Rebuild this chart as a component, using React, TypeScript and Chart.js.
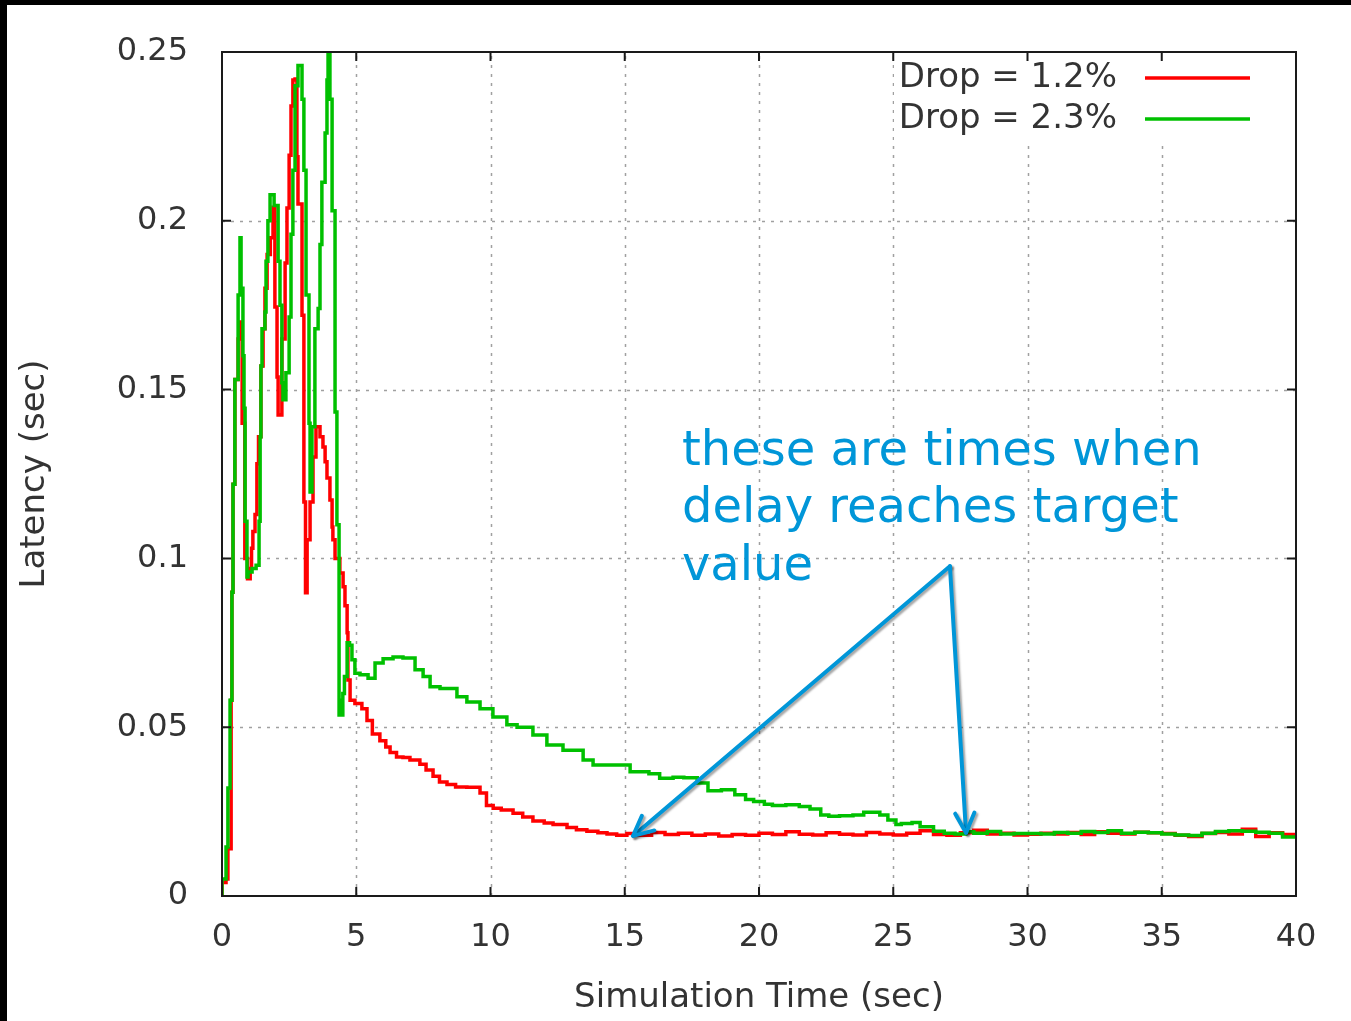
import React, { useEffect, useRef } from "react";
import { Chart, registerables } from "chart.js";

Chart.register(...registerables);

// ---------- data ----------
const xTicks = [0, 5, 10, 15, 20, 25, 30, 35, 40];
const xTickLabels = ["0", "5", "10", "15", "20", "25", "30", "35", "40"];
const yTicks = [0, 0.05, 0.1, 0.15, 0.2, 0.25];
const yTickLabels = ["0", "0.05", "0.1", "0.15", "0.2", "0.25"];

const seriesLabels = ["Drop = 1.2%", "Drop = 2.3%"];
const seriesColors = ["#ff0000", "#00c000"];

const xTitle = "Simulation Time (sec)";
const yTitle = "Latency (sec)";

// Drop = 1.2% (red)
const redTime = [
  0, 0.15, 0.22, 0.34, 0.37, 0.41, 0.48, 0.6, 0.67, 0.75, 0.85, 0.95, 1.05, 1.1, 1.15, 1.23, 1.3, 1.36,
  1.45, 1.53, 1.6, 1.68, 1.8, 1.9, 1.97, 2.05, 2.09, 2.23, 2.35, 2.42, 2.5, 2.57, 2.64, 2.72, 2.79, 2.83,
  2.98, 3.05, 3.11, 3.17, 3.28, 3.39, 3.5, 3.58, 3.65, 3.76, 3.84, 3.91, 4.02, 4.1, 4.13, 4.21, 4.39,
  4.51, 4.58, 4.66, 4.69, 4.77, 4.95, 5.21, 5.4, 5.6, 5.88, 6.1, 6.26, 6.5, 6.74, 7.0, 7.37, 7.6, 7.86,
  8.1, 8.38, 8.7, 9.12, 9.61, 9.85, 10.1, 10.4, 10.84, 11.2, 11.58, 12.0, 12.33, 12.85, 13.2, 13.59,
  14.0, 14.34, 14.7, 15.08, 15.5, 16, 16.5, 17, 17.5, 18, 18.5, 19, 19.5, 20, 20.5, 21, 21.5, 22, 22.5,
  23, 23.5, 24, 24.5, 25, 25.5, 26, 26.5, 27, 27.5, 28, 28.5, 29, 29.5, 30, 30.5, 31, 31.5, 32, 32.5,
  33, 33.5, 34, 34.5, 35, 35.5, 36, 36.5, 37, 37.5, 38, 38.5, 39, 39.5, 40,
];
const redLatency = [
  0, 0.004, 0.005, 0.014, 0.058, 0.09, 0.122, 0.153, 0.165, 0.17, 0.14, 0.1, 0.094, 0.097, 0.103, 0.108,
  0.113, 0.128, 0.136, 0.157, 0.168, 0.18, 0.19, 0.195, 0.204, 0.1745, 0.1537, 0.1425, 0.165, 0.1875,
  0.2038, 0.2194, 0.234, 0.2417, 0.242, 0.219, 0.205, 0.172, 0.1167, 0.0898, 0.1055, 0.1167, 0.13, 0.139,
  0.139, 0.136, 0.133, 0.1286, 0.1238, 0.1173, 0.1093, 0.1055, 0.1, 0.0957, 0.0916, 0.086, 0.078, 0.064,
  0.058, 0.057, 0.0555, 0.052, 0.048, 0.046, 0.0441, 0.0425, 0.0412, 0.041, 0.0403, 0.039, 0.0373, 0.0355,
  0.0338, 0.033, 0.0323, 0.0322, 0.0305, 0.0268, 0.026, 0.0255, 0.0245, 0.0234, 0.0222, 0.0216, 0.0212,
  0.0203, 0.0196, 0.0192, 0.0187, 0.0184, 0.018, 0.0185, 0.018, 0.0188, 0.0182, 0.0186, 0.018, 0.0184,
  0.0178, 0.0182, 0.018, 0.0186, 0.0182, 0.019, 0.0183, 0.0181, 0.0187, 0.0183, 0.0181, 0.0188, 0.0184,
  0.0181, 0.0186, 0.0193, 0.0182, 0.018, 0.0187, 0.0195, 0.0184, 0.0186, 0.0181, 0.0183, 0.0186, 0.0184,
  0.0188, 0.0182, 0.019, 0.0186, 0.0184, 0.0189, 0.0187, 0.0185, 0.018, 0.0176, 0.0185, 0.0188, 0.0184,
  0.0198, 0.0176, 0.0187, 0.0182,
];

// Drop = 2.3% (green)
const greenTime = [
  0, 0.15, 0.22, 0.3, 0.37, 0.41, 0.48, 0.6, 0.67, 0.71, 0.78, 0.82, 0.86, 0.93, 0.97, 1.12, 1.27, 1.38,
  1.42, 1.45, 1.49, 1.6, 1.64, 1.71, 1.79, 1.94, 2.0, 2.09, 2.16, 2.23, 2.27, 2.38, 2.5, 2.57, 2.64, 2.72,
  2.83, 2.98, 3.05, 3.13, 3.24, 3.28, 3.35, 3.46, 3.58, 3.65, 3.72, 3.84, 3.91, 3.95, 4.02, 4.1, 4.21,
  4.28, 4.36, 4.39, 4.45, 4.5, 4.56, 4.66, 4.75, 4.84, 4.95, 5.14, 5.44, 5.7, 6.0, 6.37, 6.74, 7.19, 7.49,
  7.75, 8.12, 8.75, 9.12, 9.61, 10.09, 10.61, 10.99, 11.58, 12.1, 12.7, 13.45, 13.82, 14.82, 15.2, 15.9,
  16.3, 16.8, 17.2, 17.7, 18.1, 18.6, 19.1, 19.5, 19.8, 20.2, 20.5, 21.0, 21.5, 21.9, 22.3, 22.6, 23.0,
  23.5, 23.9, 24.2, 24.5, 24.8, 25.1, 25.3, 25.7, 26.0, 26.5, 26.9, 27.3, 27.7, 28.0, 28.5, 29.0, 29.5,
  30, 30.5, 31, 31.5, 32, 32.5, 33, 33.5, 34, 34.5, 35, 35.5, 36, 36.5, 37, 37.5, 38, 38.5, 39, 39.5, 40,
];
const greenLatency = [
  0, 0.005, 0.0145, 0.032, 0.058, 0.09, 0.122, 0.153, 0.178, 0.195, 0.18, 0.16, 0.1445, 0.111, 0.0945,
  0.096, 0.097, 0.098, 0.111, 0.136, 0.157, 0.168, 0.173, 0.188, 0.2, 0.2077, 0.2045, 0.2045, 0.188,
  0.175, 0.152, 0.147, 0.155, 0.1715, 0.196, 0.215, 0.24, 0.246, 0.236, 0.215, 0.178, 0.14, 0.1197, 0.139,
  0.168, 0.174, 0.193, 0.2114, 0.226, 0.2417, 0.2497, 0.236, 0.203, 0.1434, 0.11, 0.0536, 0.058, 0.0536,
  0.06, 0.065, 0.075, 0.0743, 0.07, 0.066, 0.0655, 0.0645, 0.069, 0.0703, 0.0708, 0.0705, 0.067, 0.065,
  0.062, 0.0615, 0.059, 0.0575, 0.0555, 0.053, 0.0507, 0.05, 0.0477, 0.0447, 0.0432, 0.0403, 0.0388,
  0.0388, 0.0368, 0.0362, 0.0349, 0.0352, 0.035, 0.0335, 0.0312, 0.0315, 0.03, 0.0286, 0.028, 0.0272,
  0.0268, 0.027, 0.0265, 0.0258, 0.024, 0.0236, 0.0238, 0.024, 0.0248, 0.0248, 0.024, 0.0225, 0.0212,
  0.0215, 0.0218, 0.0205, 0.0192, 0.0186, 0.0184, 0.019, 0.0186, 0.0191, 0.0184, 0.0185, 0.0185, 0.0184,
  0.0188, 0.0186, 0.0191, 0.0188, 0.0193, 0.0186, 0.0189, 0.0187, 0.0184, 0.0181, 0.0179, 0.0186, 0.0191,
  0.0193, 0.0192, 0.0189, 0.0186, 0.0175,
];

// annotation (data coordinates)
const annotationLines = ["these are times when", "delay reaches target", "value"];
const annotationAnchor = { x: 17.13, y: 0.1277 };
const arrowFrom = { x: 27.11, y: 0.0977 };
const arrowTips = [
  { x: 15.31, y: 0.0178 },
  { x: 27.71, y: 0.0187 },
];

// ---------- styles ----------
const FONT_FAMILY = "'DejaVu Sans', sans-serif";
const TEXT_COLOR = "#333333";
const ANNOT_COLOR = "#0096d8";

const gnuplotPlugin = {
  id: "gnuplotDecor",
  beforeDatasetsDraw(chart: any) {
    const { ctx, chartArea: a, scales } = chart;
    const xs = scales.x;
    const ys = scales.y;
    ctx.save();
    ctx.strokeStyle = "#a0a0a0";
    ctx.lineWidth = 1.5;
    ctx.setLineDash([3, 6]);
    xTicks.forEach((v) => {
      if (v === xs.min || v === xs.max) return;
      const px = Math.round(xs.getPixelForValue(v)) + 0.5;
      ctx.beginPath();
      ctx.moveTo(px, a.bottom);
      ctx.lineTo(px, a.top);
      ctx.stroke();
    });
    yTicks.forEach((v) => {
      if (v === ys.min || v === ys.max) return;
      const py = Math.round(ys.getPixelForValue(v)) + 0.5;
      ctx.beginPath();
      ctx.moveTo(a.left, py);
      ctx.lineTo(a.right, py);
      ctx.stroke();
    });
    ctx.setLineDash([]);

    // gnuplot-style key (opaque)
    ctx.fillStyle = "#ffffff";
    ctx.fillRect(a.right - 402, a.top + 4, 368, 84);
    ctx.font = `34px ${FONT_FAMILY}`;
    ctx.textAlign = "right";
    ctx.textBaseline = "middle";
    seriesLabels.forEach((lab, i) => {
      const y = a.top + 26 + i * 41;
      ctx.fillStyle = TEXT_COLOR;
      ctx.fillText(lab, a.right - 179, y);
      ctx.strokeStyle = seriesColors[i];
      ctx.lineWidth = 3.5;
      ctx.beginPath();
      ctx.moveTo(a.right - 151, y);
      ctx.lineTo(a.right - 46, y);
      ctx.stroke();
    });
    ctx.restore();
  },
  afterDatasetsDraw(chart: any) {
    const { ctx, chartArea: a, scales } = chart;
    const xs = scales.x;
    const ys = scales.y;
    ctx.save();
    // border
    ctx.strokeStyle = "#1a1a1a";
    ctx.lineWidth = 2;
    ctx.strokeRect(a.left, a.top, a.right - a.left, a.bottom - a.top);
    // inward tick marks (mirrored)
    const tl = 9;
    ctx.beginPath();
    xTicks.forEach((v) => {
      const px = xs.getPixelForValue(v);
      ctx.moveTo(px, a.bottom);
      ctx.lineTo(px, a.bottom - tl);
      ctx.moveTo(px, a.top);
      ctx.lineTo(px, a.top + tl);
    });
    yTicks.forEach((v) => {
      const py = ys.getPixelForValue(v);
      ctx.moveTo(a.left, py);
      ctx.lineTo(a.left + tl, py);
      ctx.moveTo(a.right, py);
      ctx.lineTo(a.right - tl, py);
    });
    ctx.stroke();

    // annotation text
    ctx.fillStyle = ANNOT_COLOR;
    ctx.font = `48px 'DejaVu Sans', sans-serif`;
    ctx.textAlign = "left";
    ctx.textBaseline = "alphabetic";
    const tx = xs.getPixelForValue(annotationAnchor.x);
    const ty = ys.getPixelForValue(annotationAnchor.y);
    annotationLines.forEach((line, i) => {
      ctx.fillText(line, tx, ty + i * 57.5);
    });

    // arrows
    const fx = xs.getPixelForValue(arrowFrom.x);
    const fy = ys.getPixelForValue(arrowFrom.y);
    ctx.strokeStyle = ANNOT_COLOR;
    ctx.lineWidth = 4;
    ctx.lineCap = "round";
    ctx.lineJoin = "round";
    ctx.shadowColor = "rgba(0,0,0,0.35)";
    ctx.shadowOffsetX = 2;
    ctx.shadowOffsetY = 2;
    ctx.shadowBlur = 2;
    arrowTips.forEach((tip) => {
      const px = xs.getPixelForValue(tip.x);
      const py = ys.getPixelForValue(tip.y);
      ctx.beginPath();
      ctx.moveTo(fx, fy);
      ctx.lineTo(px, py);
      ctx.stroke();
      const ang = Math.atan2(fy - py, fx - px);
      const len = 22;
      const spread = (26 * Math.PI) / 180;
      ctx.beginPath();
      ctx.moveTo(px + len * Math.cos(ang - spread), py + len * Math.sin(ang - spread));
      ctx.lineTo(px, py);
      ctx.lineTo(px + len * Math.cos(ang + spread), py + len * Math.sin(ang + spread));
      ctx.stroke();
    });
    ctx.restore();
  },
};

export default function App() {
  const ref = useRef<HTMLCanvasElement | null>(null);

  useEffect(() => {
    if (!ref.current) return;
    const tickFont = { family: FONT_FAMILY, size: 32 };
    const titleFont = { family: FONT_FAMILY, size: 34 };
    const chart = new Chart(ref.current, {
      type: "line",
      data: {
        datasets: [
          {
            label: seriesLabels[0],
            data: redTime.map((t, i) => ({ x: t, y: redLatency[i] })),
            borderColor: seriesColors[0],
            borderWidth: 3.5,
            pointRadius: 0,
            tension: 0,
            stepped: "after",
            fill: false,
            order: 1,
          },
          {
            label: seriesLabels[1],
            data: greenTime.map((t, i) => ({ x: t, y: greenLatency[i] })),
            borderColor: seriesColors[1],
            borderWidth: 3.5,
            pointRadius: 0,
            tension: 0,
            stepped: "after",
            fill: false,
            order: 0,
          },
        ],
      },
      options: {
        animation: false,
        responsive: false,
        maintainAspectRatio: false,
        layout: { padding: { left: 0, top: 47, right: 55, bottom: 0 } },
        plugins: { legend: { display: false }, tooltip: { enabled: false } },
        scales: {
          x: {
            type: "linear",
            min: 0,
            max: 40,
            afterBuildTicks: (s: any) => {
              s.ticks = xTicks.map((v) => ({ value: v }));
            },
            afterFit: (s: any) => {
              s.height = 125;
            },
            grid: { display: false },
            border: { display: false },
            ticks: {
              font: tickFont,
              color: TEXT_COLOR,
              padding: 14,
              maxRotation: 0,
              autoSkip: false,
              callback: (v: any) => xTickLabels[xTicks.indexOf(Number(v))],
            },
            title: {
              display: true,
              text: xTitle,
              font: titleFont,
              color: TEXT_COLOR,
              padding: { top: 0, bottom: 2 },
            },
          },
          y: {
            type: "linear",
            min: 0,
            max: 0.25,
            afterBuildTicks: (s: any) => {
              s.ticks = yTicks.map((v) => ({ value: v }));
            },
            afterFit: (s: any) => {
              s.width = 215;
            },
            grid: { display: false },
            border: { display: false },
            ticks: {
              font: tickFont,
              color: TEXT_COLOR,
              padding: 26,
              autoSkip: false,
              callback: (v: any) => yTickLabels[yTicks.findIndex((t) => Math.abs(t - Number(v)) < 1e-9)],
            },
            title: {
              display: true,
              text: yTitle,
              font: titleFont,
              color: TEXT_COLOR,
              padding: { top: 8, bottom: 0 },
            },
          },
        },
      },
      plugins: [gnuplotPlugin],
    } as any);
    return () => chart.destroy();
  }, []);

  return (
    <div
      style={{
        position: "fixed",
        left: 0,
        top: 0,
        width: 1351,
        height: 1021,
        boxSizing: "border-box",
        borderTop: "5px solid #000",
        borderLeft: "7px solid #000",
        background: "#fff",
        overflow: "hidden",
      }}
    >
      <canvas ref={ref} width={1344} height={1016} style={{ display: "block", width: 1344, height: 1016 }} />
    </div>
  );
}
